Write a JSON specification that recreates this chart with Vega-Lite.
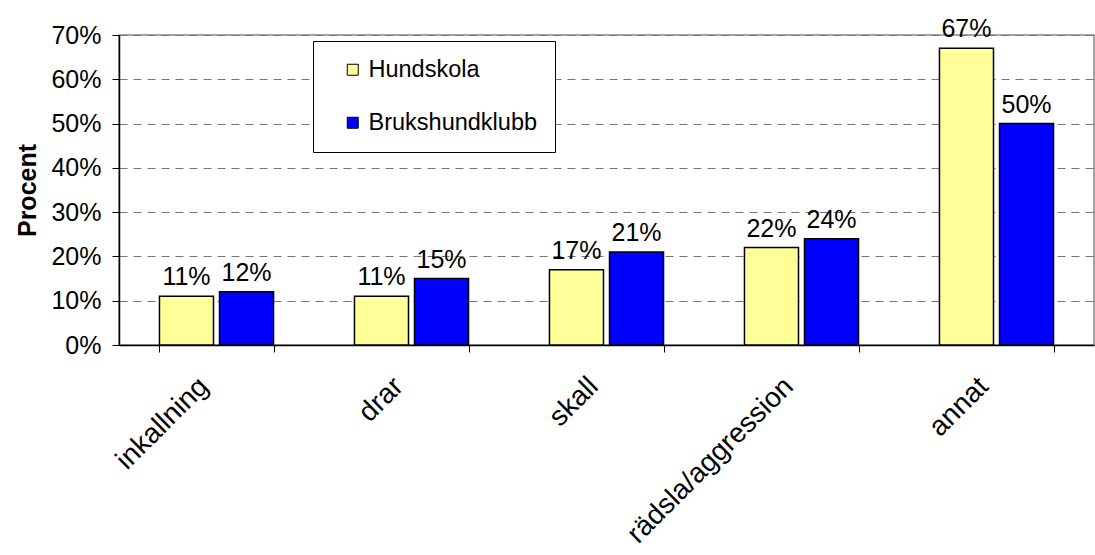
{
  "$schema": "https://vega.github.io/schema/vega-lite/v6.json",
  "width": 975,
  "height": 310,
  "autosize": {"type": "none"},
  "padding": {"left": 119, "top": 35, "right": 1, "bottom": 210},
  "background": "white",
  "config": {
    "font": "Liberation Sans",
    "view": {"stroke": "#888888", "strokeWidth": 1.5},
    "axis": {"labelFont": "Liberation Sans", "titleFont": "Liberation Sans"}
  },
  "data": {
    "values": [
      {"kategori": "inkallning", "grupp": "Hundskola", "andel": 0.11},
      {"kategori": "inkallning", "grupp": "Brukshundklubb", "andel": 0.12},
      {"kategori": "drar", "grupp": "Hundskola", "andel": 0.11},
      {"kategori": "drar", "grupp": "Brukshundklubb", "andel": 0.15},
      {"kategori": "skall", "grupp": "Hundskola", "andel": 0.17},
      {"kategori": "skall", "grupp": "Brukshundklubb", "andel": 0.21},
      {"kategori": "rädsla/aggression", "grupp": "Hundskola", "andel": 0.22},
      {"kategori": "rädsla/aggression", "grupp": "Brukshundklubb", "andel": 0.24},
      {"kategori": "annat", "grupp": "Hundskola", "andel": 0.67},
      {"kategori": "annat", "grupp": "Brukshundklubb", "andel": 0.50}
    ]
  },
  "encoding": {
    "x": {
      "field": "kategori",
      "type": "nominal",
      "sort": ["inkallning", "drar", "skall", "rädsla/aggression", "annat"],
      "scale": {"paddingInner": 0.415, "paddingOuter": 0.2075},
      "axis": {
        "title": null,
        "labelAngle": -45,
        "labelAlign": "right",
        "labelBaseline": "middle",
        "labelFontSize": 28,
        "labelColor": "black",
        "labelPadding": 30,
        "labelOffset": -13,
        "labelLimit": 0,
        "labelOverlap": false,
        "tickBand": "extent",
        "tickSize": 7,
        "tickColor": "black",
        "domainColor": "black",
        "domainWidth": 1.5,
        "grid": false
      }
    },
    "xOffset": {
      "field": "grupp",
      "sort": ["Hundskola", "Brukshundklubb"],
      "scale": {"paddingInner": 0.1, "paddingOuter": 0}
    },
    "y": {
      "field": "andel",
      "type": "quantitative",
      "scale": {"domain": [0, 0.7], "nice": false},
      "axis": {
        "title": "Procent",
        "titleFontSize": 25,
        "titleFontWeight": "bold",
        "titleColor": "black",
        "titlePadding": 10,
        "format": ".0%",
        "values": [0, 0.1, 0.2, 0.3, 0.4, 0.5, 0.6, 0.7],
        "labelFontSize": 25,
        "labelColor": "black",
        "labelPadding": 11,
        "tickSize": 7,
        "tickColor": "black",
        "domainColor": "black",
        "domainWidth": 1.5,
        "grid": true,
        "gridColor": "#777777",
        "gridDash": [8, 6],
        "gridWidth": 1.2
      }
    }
  },
  "layer": [
    {
      "mark": {"type": "bar", "stroke": "black", "strokeWidth": 1.5},
      "encoding": {
        "color": {
          "field": "grupp",
          "type": "nominal",
          "sort": ["Hundskola", "Brukshundklubb"],
          "scale": {"domain": ["Hundskola", "Brukshundklubb"], "range": ["#FFFF99", "#0000FF"]},
          "legend": {
            "title": null,
            "orient": "none",
            "legendX": 194,
            "legendY": 6,
            "direction": "vertical",
            "symbolType": "square",
            "symbolSize": 121,
            "symbolStrokeColor": "black",
            "symbolStrokeWidth": 1,
            "symbolOpacity": 1,
            "symbolOffset": 11,
            "labelFontSize": 23.5,
            "labelColor": "black",
            "labelFont": "Liberation Sans",
            "labelLimit": 0,
            "labelOffset": 4,
            "rowPadding": 28,
            "padding": 17,
            "strokeColor": "black",
            "fillColor": "white"
          }
        }
      }
    },
    {
      "mark": {"type": "text", "baseline": "alphabetic", "dy": -11, "fontSize": 25, "color": "black", "font": "Liberation Sans"},
      "encoding": {"text": {"field": "andel", "type": "quantitative", "format": ".0%"}}
    }
  ]
}
